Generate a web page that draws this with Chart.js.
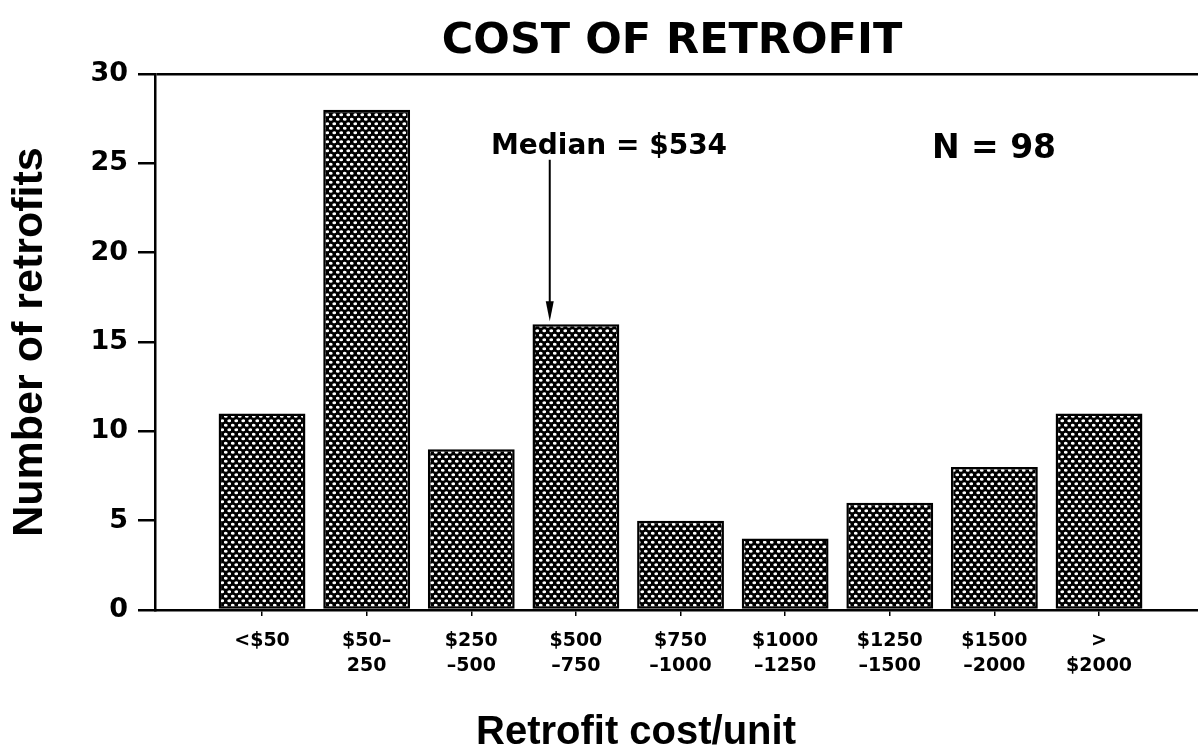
<!DOCTYPE html>
<html>
<head>
<meta charset="utf-8">
<script src="https://cdn.jsdelivr.net/npm/chart.js@4.4.1/dist/chart.umd.min.js"></script>
<style>
  html, body { margin: 0; padding: 0; background: #fff; }
  #wrap { width: 1198px; height: 752px; }
</style>
</head>
<body>
<div id="wrap"><canvas id="c" width="1198" height="752"></canvas></div>
<script>
// ---- data ----
const categories = [
  ['<$50'], ['$50\u2013', '250'], ['$250', '\u2013500'], ['$500', '\u2013750'],
  ['$750', '\u20131000'], ['$1000', '\u20131250'], ['$1250', '\u20131500'],
  ['$1500', '\u20132000'], ['>', '$2000']
];
const counts = [11, 28, 9, 16, 5, 4, 6, 8, 11];
const yTicks = [0, 5, 10, 15, 20, 25, 30];
const titleText = 'COST OF RETROFIT';
const xTitle = 'Retrofit cost/unit';
const yTitle = 'Number of retrofits';
const medianText = 'Median = $534';
const nText = 'N = 98';
const medianPos = 3.75;        // position on x value scale (inside $500–750 bin)
const medianArrowFrom = 25.2;  // y value where arrow starts
const medianArrowTo = 16;      // y value of the bar top

// ---- pattern fill ----
function makePattern() {
  const p = document.createElement('canvas');
  p.width = 7; p.height = 9;
  const g = p.getContext('2d');
  g.fillStyle = '#000';
  g.fillRect(0, 0, 7, 9);
  g.fillStyle = '#fff';
  const dots = [[1.75, 2.25], [5.25, 6.75]];
  dots.forEach(([x, y]) => {
    g.beginPath();
    g.ellipse(x, y, 1.9, 1.55, 0, 0, Math.PI * 2);
    g.fill();
  });
  return g.createPattern(p, 'repeat');
}
const ctx = document.getElementById('c').getContext('2d');
const pattern = makePattern();

const points = counts.map((v, i) => ({ x: i + 1, y: v }));

const annot = {
  id: 'annot',
  afterDraw(chart) {
    const c = chart.ctx;
    const xs = chart.scales.x, ys = chart.scales.y;
    c.save();
    c.fillStyle = '#000';
    c.strokeStyle = '#000';
    // Title
    c.font = 'bold 43px "DejaVu Sans"';
    c.textAlign = 'center';
    c.textBaseline = 'alphabetic';
    c.fillText(titleText, 672, 53);
    // x title
    c.font = 'bold 40px "Liberation Sans"';
    c.fillText(xTitle, 636, 744);
    // Median text
    c.font = 'bold 28px "DejaVu Sans"';
    c.fillText(medianText, 609, 154);
    // N text
    c.font = 'bold 33px "DejaVu Sans"';
    c.fillText(nText, 994, 158);
    // arrow
    const ax = xs.getPixelForValue(medianPos);
    const y0 = ys.getPixelForValue(medianArrowFrom);
    const y1 = ys.getPixelForValue(medianArrowTo) - 3;
    c.lineWidth = 2;
    c.beginPath();
    c.moveTo(ax, y0);
    c.lineTo(ax, y1 - 18);
    c.stroke();
    c.beginPath();
    c.moveTo(ax - 4, y1 - 20);
    c.lineTo(ax + 4, y1 - 20);
    c.lineTo(ax, y1);
    c.closePath();
    c.fill();
    c.restore();
  }
};

new Chart(ctx, {
  type: 'bar',
  data: {
    datasets: [{
      data: points,
      backgroundColor: pattern,
      borderColor: '#000',
      borderWidth: 2.5,
      borderSkipped: false,
      barPercentage: 0.83,
      categoryPercentage: 1.0
    }]
  },
  options: {
    responsive: false,
    animation: false,
    devicePixelRatio: 1,
    layout: { padding: { top: 74, right: 0, bottom: 0, left: 0 } },
    plugins: {
      legend: { display: false },
      tooltip: { enabled: false },
      title: { display: false }
    },
    scales: {
      x: {
        type: 'linear',
        min: -0.023,
        max: 9.946,
        offset: false,
        afterFit(scale) { scale.height = 142; scale.paddingRight = 0; scale.paddingLeft = 0; },
        afterBuildTicks(scale) {
          scale.ticks = categories.map((_, i) => ({ value: i + 1 }));
        },
        ticks: {
          autoSkip: false,
          maxRotation: 0,
          minRotation: 0,
          padding: 12,
          color: '#000',
          font: { family: '"DejaVu Sans"', size: 19, weight: 'bold', lineHeight: 1.35 },
          callback: (v) => (v >= 1 && v <= categories.length) ? categories[Math.round(v) - 1] : ''
        },
        grid: {
          offset: false,
          drawOnChartArea: false,
          tickLength: 6,
          lineWidth: 1.5,
          tickColor: '#000'
        },
        border: { display: true, color: '#000', width: 2.5 }
      },
      y: {
        min: 0,
        max: 30,
        afterFit(scale) { scale.width = 155; },
        afterBuildTicks(scale) { scale.ticks = yTicks.map(v => ({ value: v })); },
        ticks: {
          padding: 10,
          color: '#000',
          font: { family: '"DejaVu Sans"', size: 27, weight: 'bold' }
        },
        grid: {
          drawOnChartArea: true,
          lineWidth: 2.5,
          tickLength: 17,
          tickColor: '#000',
          color: (c) => (c.tick && c.tick.value === 30) ? '#000' : 'rgba(0,0,0,0)'
        },
        border: { display: true, color: '#000', width: 2.5 },
        title: {
          display: true,
          text: yTitle,
          color: '#000',
          font: { family: '"Liberation Sans"', size: 43, weight: 'bold' },
          padding: { top: 4, bottom: 0 }
        }
      }
    }
  },
  plugins: [annot]
});
</script>
</body>
</html>
